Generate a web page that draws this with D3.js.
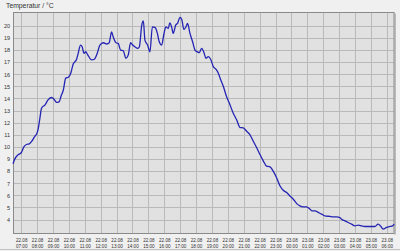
<!DOCTYPE html>
<html><head><meta charset="utf-8">
<script src="https://cdn.jsdelivr.net/npm/d3@7"></script>
<style>html,body{margin:0;padding:0;background:#f0f0f0;}svg{display:block;}</style>
</head><body>
<script>
const title = "Temperatur / °C";
const times = ["22.08 06:29","22.08 06:35","22.08 06:50","22.08 07:00","22.08 07:10","22.08 07:20","22.08 07:30","22.08 07:40","22.08 07:50","22.08 08:00","22.08 08:05","22.08 08:10","22.08 08:17","22.08 08:30","22.08 08:42","22.08 08:55","22.08 09:05","22.08 09:14","22.08 09:24","22.08 09:30","22.08 09:39","22.08 09:48","22.08 09:58","22.08 10:07","22.08 10:16","22.08 10:29","22.08 10:35","22.08 10:44","22.08 10:50","22.08 10:57","22.08 11:03","22.08 11:11","22.08 11:26","22.08 11:36","22.08 11:47","22.08 11:57","22.08 12:10","22.08 12:23","22.08 12:32","22.08 12:41","22.08 12:47","22.08 12:58","22.08 13:06","22.08 13:15","22.08 13:25","22.08 13:35","22.08 13:44","22.08 13:53","22.08 14:01","22.08 14:09","22.08 14:20","22.08 14:26","22.08 14:35","22.08 14:41","22.08 14:47","22.08 14:57","22.08 15:06","22.08 15:15","22.08 15:25","22.08 15:34","22.08 15:41","22.08 15:50","22.08 15:59","22.08 16:06","22.08 16:15","22.08 16:21","22.08 16:28","22.08 16:34","22.08 16:43","22.08 16:50","22.08 16:59","22.08 17:06","22.08 17:14","22.08 17:22","22.08 17:28","22.08 17:37","22.08 17:47","22.08 17:56","22.08 18:04","22.08 18:12","22.08 18:21","22.08 18:30","22.08 18:37","22.08 18:46","22.08 18:55","22.08 19:05","22.08 19:15","22.08 19:24","22.08 19:33","22.08 19:43","22.08 19:55","22.08 20:08","22.08 20:20","22.08 20:33","22.08 20:46","22.08 20:58","22.08 21:11","22.08 21:23","22.08 21:36","22.08 21:49","22.08 22:01","22.08 22:14","22.08 22:26","22.08 22:39","22.08 22:51","22.08 23:04","22.08 23:17","22.08 23:29","22.08 23:42","22.08 23:54","23.08 00:07","23.08 00:20","23.08 00:32","23.08 00:44","23.08 00:57","23.08 01:10","23.08 01:18","23.08 01:29","23.08 01:41","23.08 01:54","23.08 02:06","23.08 02:25","23.08 02:38","23.08 02:50","23.08 03:03","23.08 03:09","23.08 03:22","23.08 03:34","23.08 03:47","23.08 04:00","23.08 04:12","23.08 04:25","23.08 04:37","23.08 04:56","23.08 05:15","23.08 05:27","23.08 05:36","23.08 05:46","23.08 05:59","23.08 06:12","23.08 06:22","23.08 06:28"];
const temps = [8.61,8.96,9.38,9.52,10.0,10.2,10.25,10.47,10.83,11.16,11.6,12.3,13.21,13.48,13.9,14.08,13.9,13.67,13.76,14.17,14.7,15.68,15.76,16.09,16.83,17.24,17.73,18.41,18.27,17.73,17.86,17.6,17.18,17.24,17.73,18.41,18.6,18.5,18.6,19.5,19.1,18.6,18.55,18.0,17.95,17.32,17.6,18.6,18.41,18.27,18.14,18.27,20.06,20.41,18.82,18.41,17.86,19.92,19.87,19.37,18.68,18.41,19.37,19.92,19.78,20.25,19.87,19.37,20.06,20.2,20.69,20.52,19.7,19.92,20.2,19.37,18.68,18.0,17.86,17.78,18.14,17.78,17.32,17.45,17.24,16.63,16.42,16.09,15.54,14.99,14.17,13.48,12.8,12.25,11.6,11.57,11.29,11.02,10.47,9.93,9.38,8.83,8.41,8.36,8.0,7.46,6.77,6.42,6.23,5.95,5.68,5.32,5.13,5.05,5.05,4.86,4.72,4.72,4.59,4.45,4.31,4.26,4.22,4.22,4.17,4.03,3.89,3.76,3.62,3.48,3.54,3.48,3.43,3.43,3.43,3.62,3.48,3.21,3.35,3.43,3.48,3.62];
const yTicks = [4,5,6,7,8,9,10,11,12,13,14,15,16,17,18,19,20];
const xTickStart = "22.08 07:00", xTickEnd = "23.08 06:00";
const xDomain = ["22.08 06:29", "23.08 06:29"];
const yDomain = [2.85, 21.1];

const W = 400, H = 251;
const m = {left: 13, top: 12.5, right: 5.5, bottom: 17.5};
const FONT = "Liberation Sans, Arial, sans-serif";
const parse = d3.timeParse("%d.%m %H:%M");
const data = times.map((t, i) => ({t: parse(t), v: temps[i]}));

const svg = d3.select("body").append("svg").attr("width", W).attr("height", H);
svg.append("rect").attr("width", W).attr("height", H).attr("fill", "#f0f0f0");
svg.append("line").attr("x1", 0).attr("x2", W).attr("y1", 249.5).attr("y2", 249.5).attr("stroke", "#c4c4c4");

const x = d3.scaleTime().domain(xDomain.map(parse)).range([m.left, W - m.right]);
const y = d3.scaleLinear().domain(yDomain).range([H - m.bottom, m.top]);
const pw = W - m.right - m.left, ph = H - m.bottom - m.top;

svg.append("rect").attr("x", m.left).attr("y", m.top).attr("width", pw).attr("height", ph).attr("fill", "#e1e1e1");

const hourTicks = d3.timeHour.range(parse(xTickStart), d3.timeHour.offset(parse(xTickEnd), 1));

// grid
svg.append("g").selectAll("line").data(hourTicks).join("line")
  .attr("x1", d => Math.round(x(d)) + 0.5).attr("x2", d => Math.round(x(d)) + 0.5)
  .attr("y1", m.top).attr("y2", H - m.bottom).attr("stroke", "#b9b9b9").attr("stroke-width", 1);
svg.append("g").selectAll("line").data(yTicks).join("line")
  .attr("x1", m.left).attr("x2", W - m.right)
  .attr("y1", d => Math.round(y(d)) + 0.5).attr("y2", d => Math.round(y(d)) + 0.5)
  .attr("stroke", "#b9b9b9").attr("stroke-width", 1);

// border
svg.append("rect").attr("x", m.left + 0.5).attr("y", m.top).attr("width", pw - 1).attr("height", ph)
  .attr("fill", "none").attr("stroke", "#8a8a8a").attr("stroke-width", 1);
svg.append("line").attr("x1", W - m.right + 0.5).attr("x2", W - m.right + 0.5)
  .attr("y1", m.top + 1).attr("y2", H - m.bottom + 1).attr("stroke", "#a8a8a8").attr("stroke-width", 1.5);

// y axis labels
const yAxis = d3.axisLeft(y).tickValues(yTicks).tickSize(0).tickPadding(3);
const gy = svg.append("g").attr("transform", `translate(${m.left},0)`).call(yAxis);
gy.select(".domain").remove();
gy.selectAll("text").attr("font-family", FONT).attr("font-size", 5.5).attr("fill", "#333");

// x axis labels (two lines: date / time)
const xAxis = d3.axisBottom(x).tickValues(hourTicks).tickSize(0).tickPadding(4).tickFormat("");
const gx = svg.append("g").attr("transform", `translate(0,${H - m.bottom})`).call(xAxis);
gx.select(".domain").remove();
const fmtD = d3.timeFormat("%d.%m"), fmtT = d3.timeFormat("%H:%M");
gx.selectAll(".tick text").each(function(d) {
  const t = d3.select(this).text(null).attr("dy", null).attr("y", null)
    .attr("font-family", FONT).attr("font-size", 4.6).attr("fill", "#333");
  t.append("tspan").attr("x", 0).attr("y", 8.3).text(fmtD(d));
  t.append("tspan").attr("x", 0).attr("y", 14.8).text(fmtT(d));
});

// line
const line = d3.line().x(d => x(d.t)).y(d => y(d.v)).curve(d3.curveMonotoneX);
svg.append("path").datum(data).attr("d", line).attr("fill", "none")
  .attr("stroke", "#2424b4").attr("stroke-width", 1.3).attr("stroke-linejoin", "round");

svg.append("text").attr("x", 6).attr("y", 8).text(title)
  .attr("font-family", FONT).attr("font-size", 6.8).attr("fill", "#333");
</script>
</body></html>
